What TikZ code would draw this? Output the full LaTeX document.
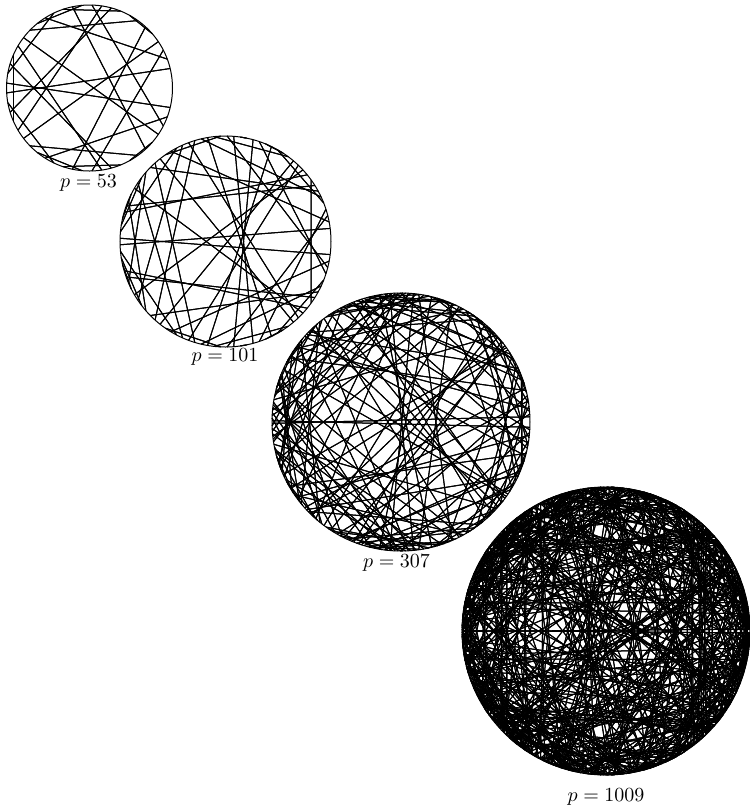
\documentclass[tikz,border=0pt]{standalone}
\usepackage{amsmath, amssymb}
\usepackage{tikz}

% inverse table mod p:  inv(i) = -(p div i) * inv(p mod i)  (mod p)
\newcommand{\buildinv}[1]{%
  \expandafter\xdef\csname inv1\endcsname{1}%
  \pgfmathtruncatemacro{\pmax}{#1-1}%
  \foreach \i in {2,...,\pmax}{%
    \edef\modq{\the\numexpr(2*#1-\i)/(2*\i)\relax}%
    \edef\modr{\the\numexpr#1-\modq*\i\relax}%
    \edef\modt{\the\numexpr\modq*\csname inv\modr\endcsname\relax}%
    \expandafter\xdef\csname inv\i\endcsname{\the\numexpr#1-(\modt-((2*\modt-#1)/(2*#1))*#1)\relax}%
  }%
}

% circle with chords i -- i^{-1}
\newcommand{\invcircle}[3]{%
  \buildinv{#1}%
  \draw (#2) circle (#3);
  \pgfmathtruncatemacro{\pmax}{#1-1}%
  \foreach \i in {1,...,\pmax}{%
    \edef\j{\csname inv\i\endcsname}%
    \draw[shift={(#2)}] ({360/#1*\i}:#3) -- ({360/#1*\j}:#3);
  }%
}

\begin{document}
\begin{tikzpicture}[x=1pt,y=1pt,line width=0.5pt]
  \useasboundingbox (0,0) rectangle (375,-405.5);

  \coordinate (c53) at (44.75,-44);
  \coordinate (c101) at (112.75,-120.75);
  \coordinate (c307) at (200.5,-211);
  \coordinate (c1009) at (303,-315.5);

  \invcircle{53}{c53}{41.5pt}
  \invcircle{101}{c101}{52.75pt}
  \invcircle{307}{c307}{64.5pt}
  \invcircle{1009}{c1009}{72pt}

  % labels
  \node (l53) at (44.25,-91.5) {$p=53$};
  \node (l101) at (112.5,-178.5) {$p=101$};
  \node (l307) at (198.25,-281.5) {$p=307$};
  \node (l1009) at (303,-398.5) {$p=1009$};

\end{tikzpicture}
\end{document}
